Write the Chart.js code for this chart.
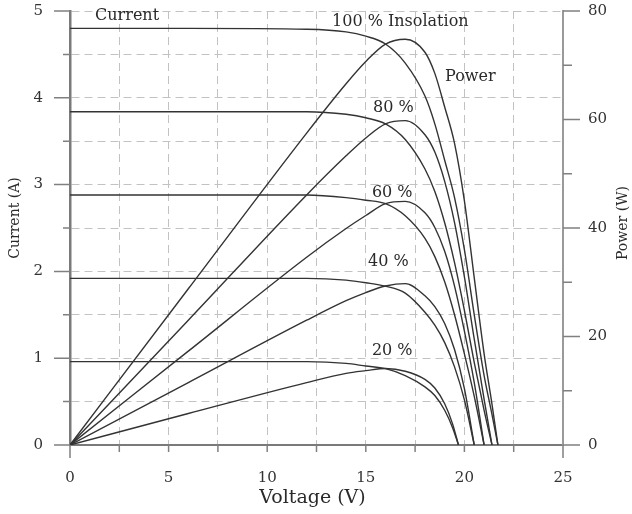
<!DOCTYPE html>
<html>
<head>
<meta charset="utf-8">
<title>PV module: current and power vs voltage</title>
<script src="https://cdn.jsdelivr.net/npm/chart.js@4.4.1/dist/chart.umd.min.js"></script>
<style>
  html, body { margin: 0; padding: 0; background: #fff; }
  #wrap { width: 632px; height: 514px; }
</style>
</head>
<body>
<div id="wrap"><canvas id="pvChart" width="632" height="514"></canvas></div>
<script>
// ==========================================
// DATA
// ==========================================
// 100 % insolation
const volt100 = [0, 6, 12, 14, 15, 16, 17, 18, 18.5, 19, 19.5, 20, 20.5, 21, 21.4, 21.7];
const amp100  = [4.8, 4.8, 4.79, 4.76, 4.71, 4.62, 4.40, 4.02, 3.70, 3.28, 2.85, 2.25, 1.50, 0.80, 0.35, 0];
const watt100 = [0, 28.8, 57.5, 66.6, 70.7, 73.9, 74.8, 72.4, 68.5, 62.3, 55.6, 45.0, 30.8, 16.8, 7.5, 0];

// 80 %
const volt80 = [0, 6, 12, 14, 15, 16, 17, 18, 18.5, 19, 19.5, 20, 20.5, 21, 21.4];
const amp80  = [3.84, 3.84, 3.84, 3.81, 3.77, 3.70, 3.52, 3.18, 2.92, 2.56, 2.10, 1.55, 0.95, 0.40, 0];
const watt80 = [0, 23.0, 46.1, 53.3, 56.6, 59.2, 59.8, 57.2, 54.0, 48.6, 41.0, 31.0, 19.5, 8.4, 0];

// 60 %
const volt60 = [0, 6, 12, 14, 15, 16, 17, 18, 18.5, 19, 19.5, 20, 20.5, 21];
const amp60  = [2.88, 2.88, 2.88, 2.85, 2.82, 2.78, 2.64, 2.38, 2.17, 1.88, 1.50, 1.05, 0.56, 0];
const watt60 = [0, 17.3, 34.6, 39.9, 42.3, 44.5, 44.9, 42.8, 40.1, 35.7, 29.3, 21.0, 11.5, 0];

// 40 %
const volt40 = [0, 6, 12, 14, 15, 16, 17, 18, 18.5, 19, 19.5, 20, 20.5];
const amp40  = [1.92, 1.92, 1.92, 1.90, 1.87, 1.83, 1.75, 1.53, 1.38, 1.18, 0.90, 0.52, 0];
const watt40 = [0, 11.5, 23.0, 26.6, 28.1, 29.3, 29.75, 27.5, 25.5, 22.4, 17.6, 10.4, 0];

// 20 %
const volt20 = [0, 6, 12, 14, 15, 16, 17, 18, 18.5, 19, 19.4, 19.7];
const amp20  = [0.96, 0.96, 0.96, 0.94, 0.91, 0.88, 0.80, 0.67, 0.57, 0.40, 0.20, 0];
const watt20 = [0, 5.8, 11.5, 13.2, 13.7, 14.1, 13.6, 12.1, 10.5, 7.6, 3.9, 0];

// text placed in the plot (volts, amps on the left axis)
const notes = [
  { text: 'Current', v: 1.27, a: 4.94 },
  { text: '100 % Insolation', v: 13.29, a: 4.87 },
  { text: 'Power', v: 19.02, a: 4.24 },
  { text: '80 %', v: 15.37, a: 3.88 },
  { text: '60 %', v: 15.31, a: 2.90 },
  { text: '40 %', v: 15.11, a: 2.11 },
  { text: '20 %', v: 15.31, a: 1.09 }
];

const FONT = "'DejaVu Serif', 'Liberation Serif', serif";
const LINE = '#333333';

function pts(vs, ys) {
  return vs.map((v, i) => ({ x: v, y: ys[i] }));
}

function curve(label, vs, ys, axis) {
  return {
    label: label,
    data: pts(vs, ys),
    yAxisID: axis,
    borderColor: LINE,
    borderWidth: 1.4,
    pointRadius: 0,
    fill: false,
    cubicInterpolationMode: 'monotone'
  };
}

// fixed axis box sizes, no extra padding from the tick labels
function fixBox(size) {
  return s => {
    if (s.isHorizontal()) s.height = size; else s.width = size;
    s.paddingTop = 0;
    s.paddingBottom = 0;
    s.paddingLeft = 0;
    s.paddingRight = 0;
  };
}

// ==========================================
// ticks, axis titles and notes
// ==========================================
const decorPlugin = {
  id: 'decor',
  afterDraw(chart) {
    const ctx = chart.ctx;
    const { x, y, y1 } = chart.scales;
    const area = chart.chartArea;

    ctx.save();
    ctx.strokeStyle = '#808080';
    ctx.lineWidth = 1.5;
    ctx.beginPath();
    for (let v = 0; v <= 25; v += 2.5) {
      const px = x.getPixelForValue(v);
      const len = (v === 0 || v === 25) ? 13 : 7;
      ctx.moveTo(px, area.bottom);
      ctx.lineTo(px, area.bottom + len);
    }
    for (let a = 0; a <= 5; a += 0.5) {
      const py = y.getPixelForValue(a);
      ctx.moveTo(area.left, py);
      ctx.lineTo(area.left - (a % 1 === 0 ? 16 : 7), py);
    }
    for (let w = 0; w <= 80; w += 10) {
      const py = y1.getPixelForValue(w);
      ctx.moveTo(area.right, py);
      ctx.lineTo(area.right + (w % 20 === 0 ? 17 : 9), py);
    }
    ctx.stroke();

    // axis titles
    ctx.fillStyle = '#2a2a2a';
    ctx.textAlign = 'center';
    ctx.textBaseline = 'middle';
    ctx.font = '19px ' + FONT;
    ctx.fillText('Voltage (V)', (area.left + area.right) / 2 - 4, 498);

    ctx.font = '14px ' + FONT;
    ctx.save();
    ctx.translate(15, 218);
    ctx.rotate(-Math.PI / 2);
    ctx.fillText('Current (A)', 0, 0);
    ctx.restore();

    ctx.save();
    ctx.translate(623, 223);
    ctx.rotate(-Math.PI / 2);
    ctx.fillText('Power (W)', 0, 0);
    ctx.restore();

    // notes inside the plot
    ctx.font = '16px ' + FONT;
    ctx.textAlign = 'left';
    notes.forEach(n => {
      ctx.fillText(n.text, x.getPixelForValue(n.v), y.getPixelForValue(n.a));
    });
    ctx.restore();
  }
};

Chart.defaults.font.family = FONT;
Chart.defaults.color = '#333333';

new Chart(document.getElementById('pvChart'), {
  type: 'line',
  data: {
    datasets: [
      curve('I 100 %', volt100, amp100, 'y'),
      curve('I 80 %', volt80, amp80, 'y'),
      curve('I 60 %', volt60, amp60, 'y'),
      curve('I 40 %', volt40, amp40, 'y'),
      curve('I 20 %', volt20, amp20, 'y'),
      curve('P 100 %', volt100, watt100, 'y1'),
      curve('P 80 %', volt80, watt80, 'y1'),
      curve('P 60 %', volt60, watt60, 'y1'),
      curve('P 40 %', volt40, watt40, 'y1'),
      curve('P 20 %', volt20, watt20, 'y1')
    ]
  },
  options: {
    responsive: false,
    animation: false,
    layout: { autoPadding: false, padding: { left: 0, right: 0, top: 11, bottom: 0 } },
    plugins: { legend: { display: false }, tooltip: { enabled: false } },
    scales: {
      x: {
        type: 'linear',
        min: 0, max: 25,
        afterFit: fixBox(69),
        ticks: {
          stepSize: 2.5, autoSkip: false, maxRotation: 0, padding: 24,
          font: { size: 15 },
          callback: v => (v % 5 === 0 ? String(v) : '')
        },
        grid: { color: '#c2c2c2', lineWidth: 1, drawTicks: false },
        border: { display: true, color: '#7a7a7a', width: 2, dash: [8, 5] }
      },
      y: {
        position: 'left',
        min: 0, max: 5,
        afterFit: fixBox(70),
        ticks: {
          stepSize: 0.5, autoSkip: false, padding: 27,
          font: { size: 15 },
          callback: v => (v % 1 === 0 ? String(v) : '')
        },
        grid: { color: '#c2c2c2', lineWidth: 1, drawTicks: false },
        border: { display: true, color: '#7a7a7a', width: 2.5, dash: [8, 5] }
      },
      y1: {
        position: 'right',
        min: 0, max: 80,
        afterFit: fixBox(69),
        ticks: {
          stepSize: 10, autoSkip: false, padding: 25,
          font: { size: 15 },
          callback: v => (v % 20 === 0 ? String(v) : '')
        },
        grid: { drawOnChartArea: false, drawTicks: false },
        border: { display: true, color: '#9a9a9a', width: 2 }
      }
    }
  },
  plugins: [decorPlugin]
});
</script>
</body>
</html>
